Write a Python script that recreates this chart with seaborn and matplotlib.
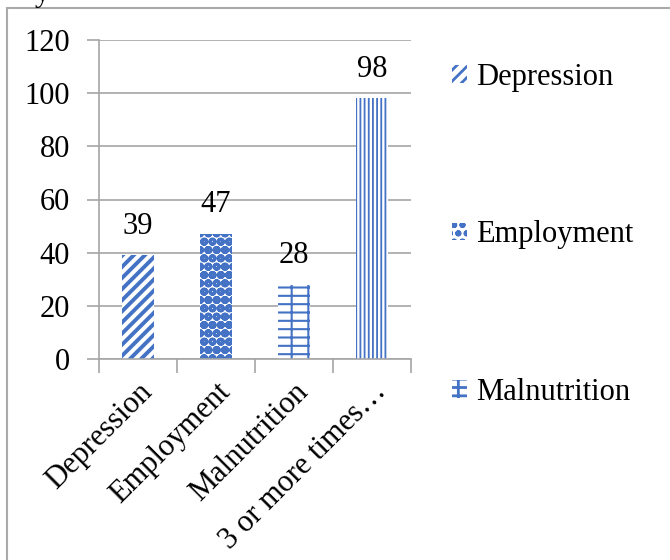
import matplotlib
matplotlib.use("Agg")
import matplotlib.pyplot as plt
import matplotlib.transforms as mtransforms
from matplotlib.patches import Patch, Rectangle
import seaborn as sns
import pandas as pd

categories = ["Depression", "Employment", "Malnutrition", "3 or more times\u2026"]
values = [39, 47, 28, 98]
legend_labels = ["Depression", "Employment", "Malnutrition"]
hatches = ["///", "oo", "--|", "||||"]
y_ticks = [0, 20, 40, 60, 80, 100, 120]

BLUE = "#4472C4"
GRID = "#a6a6a6"
FS = 22

sns.set_theme(style="white")
plt.rcParams["font.family"] = ["Liberation Serif", "DejaVu Serif"]
plt.rcParams["text.color"] = "black"
plt.rcParams["xtick.labelcolor"] = "black"
plt.rcParams["ytick.labelcolor"] = "black"
plt.rcParams["hatch.linewidth"] = 2.0
plt.rcParams["hatch.color"] = BLUE

df = pd.DataFrame({"category": categories, "value": values})

fig = plt.figure(figsize=(6.7, 5.6), dpi=100)
ax = fig.add_axes([99 / 670, 1 - 359 / 560, 312 / 670, 319 / 560])

sns.barplot(data=df, x="category", y="value", ax=ax, width=0.41,
            color="white", edgecolor=BLUE, linewidth=0, saturation=1)

hatch_lw = [2.8, 3.4, 1.5, 1.3]
for bar, h, lw in zip(ax.patches, hatches, hatch_lw):
    bar.set_hatch(h)
    bar.set_facecolor("white")
    bar.set_edgecolor(BLUE)
    bar.set_linewidth(0)
    try:
        bar.set_hatch_linewidth(lw)
    except AttributeError:
        pass

for bar, v in zip(ax.patches, values):
    ax.annotate(f"{v}", (bar.get_x() + bar.get_width() / 2, bar.get_height()),
                xytext=(0, 21), textcoords="offset points", ha="center",
                va="center", fontsize=FS, color="black")

ax.set_ylim(0, 120)
ax.set_xlim(-0.5, len(categories) - 0.5)
ax.set_yticks(y_ticks)
ax.set_yticklabels([str(t) for t in y_ticks], fontsize=FS, color="black")
ax.yaxis.grid(True, color=GRID, linewidth=1.2)
ax.set_axisbelow(True)
ax.set_xlabel("")
ax.set_ylabel("")

# category boundaries carry the tick marks; labels sit at the bar centers
ax.set_xticks([i - 0.5 for i in range(len(categories) + 1)], minor=False)
ax.set_xticklabels([])
ax.set_xticks(range(len(categories)), minor=True)
ax.set_xticklabels(categories, minor=True, rotation=45, ha="right",
                   rotation_mode="anchor", fontsize=FS, color="black")
shift = mtransforms.ScaledTranslation(-4 / 100, 0, fig.dpi_scale_trans)
for lbl in ax.get_xticklabels(minor=True):
    lbl.set_transform(lbl.get_transform() + shift)
ax.tick_params(axis="x", which="major", length=10, width=1.2, color=GRID,
               direction="out", bottom=True)
ax.tick_params(axis="x", which="minor", length=0, pad=13)
ax.tick_params(axis="y", length=9, width=1.2, color=GRID, direction="out",
               left=True, pad=12)

for side in ["top", "right"]:
    ax.spines[side].set_visible(False)
for side in ["left", "bottom"]:
    ax.spines[side].set_color(GRID)
    ax.spines[side].set_linewidth(1.2)

handles = [Patch(facecolor="white", edgecolor=BLUE, hatch=h, linewidth=0,
                 label=l) for h, l in zip(hatches[:3], legend_labels)]
leg = fig.legend(handles=handles, loc="upper left",
                 bbox_to_anchor=(452 / 670, 1 - 63 / 560), frameon=False,
                 fontsize=FS, handlelength=0.5, handleheight=0.5,
                 handletextpad=0.3, labelspacing=4.2, borderpad=0,
                 borderaxespad=0, labelcolor="black")

# chart frame
fig.patches.append(Rectangle((7 / 670, -0.1), 1.0, 1 - 8 / 560 + 0.1,
                             transform=fig.transFigure, fill=False,
                             edgecolor="#aaaaaa", linewidth=1.5))
fig.text(35 / 670, 1 - 1 / 560, "y", fontsize=FS, va="baseline", ha="left",
         color="black")

fig.savefig("out.png", dpi=100)
